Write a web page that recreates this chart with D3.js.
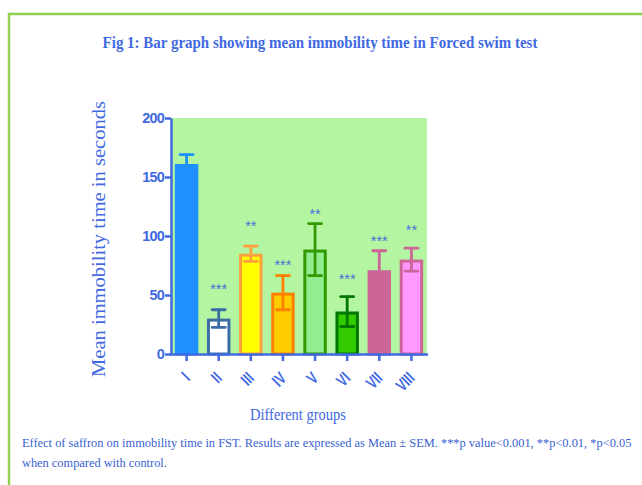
<!DOCTYPE html>
<html><head><meta charset="utf-8">
<script src="https://cdn.jsdelivr.net/npm/d3@7"></script>
<style>body{margin:0;background:#fff}svg{display:block}</style>
</head><body>
<script>
const groups = ["I","II","III","IV","V","VI","VII","VIII"];
const means  = [161, 30, 85, 52, 88.5, 36, 71, 80];
const sems   = [8, 7.5, 6.5, 14.5, 22, 12.7, 16.5, 9.7];
const stars  = ["", "***", "**", "***", "**", "***", "***", "**"];
const starLevel = [0, 58, 111, 78, 121, 66, 98, 108];
const fills   = ["#1e90ff","#ffffff","#ffff00","#ffcc00","#90ee90","#33cc00","#cc6699","#ff99ff"];
const strokes = ["#1e90ff","#3a6ea5","#ffa040","#ff8000","#339900","#007700","#cc6699","#cc6699"];
const yTicks = [0, 50, 100, 150, 200];

const W = 642, H = 485;
const blue = "#4169e1";
const serif = "Liberation Serif, Times New Roman, serif";
const sans = "Liberation Sans, Arial, sans-serif";
const svg = d3.select("body").append("svg").attr("width", W).attr("height", H);

// helper: text fitted to a given width by horizontal scaling
function fitText(parent, str, tx, ty, width, rot, opts) {
  const g = parent.append("g");
  const t = g.append("text").attr("x",0).attr("y",0)
    .attr("font-family",opts.family).attr("font-size",opts.size)
    .attr("font-weight",opts.weight||"normal").attr("fill",opts.fill)
    .attr("text-anchor",opts.anchor||"start").text(str);
  const len = t.node().getComputedTextLength();
  const sx = width / len;
  g.attr("transform",`translate(${tx},${ty}) rotate(${rot||0}) scale(${sx},1)`);
  return g;
}

// border
svg.append("path").attr("d", `M9,${H} L9,14 L${W},14`).attr("fill","none")
  .attr("stroke","#92d050").attr("stroke-width",2.5);

// title
fitText(svg, "Fig 1: Bar graph showing mean immobility time in Forced swim test", 320, 48, 435, 0,
  {family:serif, size:16.5, weight:"bold", fill:blue, anchor:"middle"});

const x = d3.scaleBand().domain(groups).range([171, 427]).paddingInner(0.27).paddingOuter(0.12);
const y = d3.scaleLinear().domain([0, 200]).range([354, 118]);

// plot background
svg.append("rect").attr("x",171).attr("y",y(200)).attr("width",256).attr("height",y(0)-y(200))
  .attr("fill","#b3f5a0");

const data = groups.map((g,i)=>({g, m:means[i], s:sems[i], st:stars[i], sl:starLevel[i], f:fills[i], c:strokes[i]}));

// bars
svg.selectAll("rect.bar").data(data).join("rect").attr("class","bar")
  .attr("x", d=>x(d.g)+1.5).attr("width", x.bandwidth()-3)
  .attr("y", d=>y(d.m)+1.5).attr("height", d=>y(0)-y(d.m)-1.5)
  .attr("fill", d=>d.f).attr("stroke", d=>d.c).attr("stroke-width",3);

// error bars
const cx = d => x(d.g)+x.bandwidth()/2;
const eb = svg.selectAll("g.eb").data(data).join("g").attr("class","eb")
  .attr("stroke", d=>d.c).attr("stroke-width",2.8).attr("stroke-linecap","round");
eb.append("line").attr("x1",cx).attr("x2",cx)
  .attr("y1",d=>y(d.m+d.s)).attr("y2",d=>y(d.m-d.s));
eb.append("line").attr("x1",d=>cx(d)-6.5).attr("x2",d=>cx(d)+6.5)
  .attr("y1",d=>y(d.m+d.s)).attr("y2",d=>y(d.m+d.s));
eb.append("line").attr("x1",d=>cx(d)-6.5).attr("x2",d=>cx(d)+6.5)
  .attr("y1",d=>y(d.m-d.s)).attr("y2",d=>y(d.m-d.s));

// stars
svg.selectAll("text.star").data(data.filter(d=>d.st)).join("text").attr("class","star")
  .attr("x",cx).attr("y",d=>y(d.sl)).attr("dy","0.55em")
  .attr("text-anchor","middle").attr("font-family",sans)
  .attr("font-size",14.5).attr("fill","#4a6fd8").text(d=>d.st);

// y axis
const yAxis = svg.append("g").attr("transform","translate(171,0)")
  .call(d3.axisLeft(y).tickValues(yTicks).tickSize(6).tickSizeOuter(0));
yAxis.select(".domain").attr("stroke",blue).attr("stroke-width",2.5);
yAxis.selectAll(".tick line").attr("stroke",blue).attr("stroke-width",2.5);
yAxis.selectAll(".tick text").attr("fill",blue).attr("font-size",14.5).attr("font-weight","bold")
  .attr("font-family",sans).attr("letter-spacing","-0.8").attr("x",-7);

// x axis
const xAxis = svg.append("g").attr("transform","translate(0,354)")
  .call(d3.axisBottom(x).tickSize(7).tickSizeOuter(0));
xAxis.select(".domain").attr("stroke",blue).attr("stroke-width",2.5).attr("d","M170,0.5H428");
xAxis.selectAll(".tick line").attr("stroke",blue).attr("stroke-width",2.5);
xAxis.selectAll(".tick text").attr("fill",blue).attr("font-size",17).attr("font-weight","bold")
  .attr("font-family",sans)
  .attr("text-anchor","end").attr("x",0).attr("y",0).attr("dy","0.35em")
  .attr("transform","translate(0,21) rotate(-45) scale(0.72,1)");

// axis titles
fitText(svg, "Mean immobility time in seconds", 105, 239, 276, -90,
  {family:serif, size:18.5, fill:blue, anchor:"middle"});
fitText(svg, "Different groups", 298, 420, 96, 0,
  {family:serif, size:16.5, fill:blue, anchor:"middle"});

// caption
fitText(svg, "Effect of saffron on immobility time in FST. Results are expressed as Mean \u00b1 SEM. ***p value<0.001, **p<0.01, *p<0.05",
  22, 447, 610, 0, {family:serif, size:13.5, fill:"#3a5fd0"});
fitText(svg, "when compared with control.", 22, 467, 145, 0, {family:serif, size:13.5, fill:"#3a5fd0"});
</script>
</body></html>
